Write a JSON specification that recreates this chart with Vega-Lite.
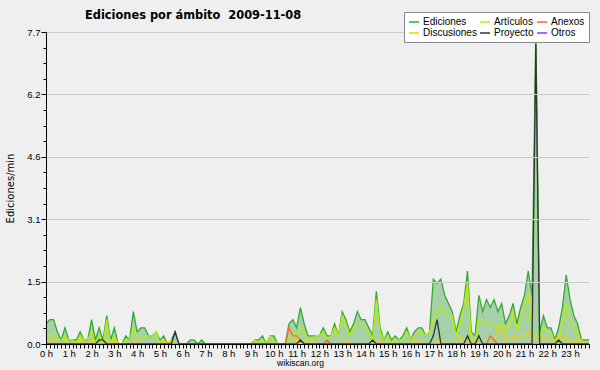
{
"$schema": "https://vega.github.io/schema/vega-lite/v6.json",
"width": 543, "height": 312,
"autosize": {"type": "none"},
"padding": {"left": 46, "top": 32, "right": 11, "bottom": 26},
"background": "#efefef",
"config": {"view": {"stroke": null}, "font": "DejaVu Sans",
"axis": {"labelOverlap": false, "labelFlush": false},
"axisX": {"labelOverlap": false, "labelFlush": false},
"axisY": {"labelOverlap": false, "labelFlush": false}},
"title": {"text": "Ediciones por ámbito \u00a02009-11-08", "anchor": "start", "frame": "group", "dx": 39, "fontSize": 11.4, "fontWeight": "bold", "color": "#000", "offset": -10},
"data": {"values": [
{"t":0,"E":0.5,"A":0.3,"D":0,"X":0,"P":0},
{"t":10,"E":0.6,"A":0.2,"D":0.1,"X":0,"P":0},
{"t":20,"E":0.6,"A":0.2,"D":0.1,"X":0,"P":0},
{"t":30,"E":0.3,"A":0.1,"D":0,"X":0,"P":0},
{"t":40,"E":0.1,"A":0.1,"D":0,"X":0,"P":0},
{"t":50,"E":0.4,"A":0.2,"D":0.1,"X":0,"P":0},
{"t":60,"E":0.1,"A":0.1,"D":0,"X":0,"P":0},
{"t":70,"E":0.1,"A":0.1,"D":0,"X":0,"P":0},
{"t":80,"E":0.1,"A":0,"D":0,"X":0,"P":0},
{"t":90,"E":0.3,"A":0.2,"D":0.1,"X":0,"P":0},
{"t":100,"E":0.1,"A":0.1,"D":0,"X":0,"P":0},
{"t":110,"E":0.1,"A":0.1,"D":0,"X":0,"P":0},
{"t":120,"E":0.6,"A":0.3,"D":0.1,"X":0,"P":0},
{"t":130,"E":0.1,"A":0,"D":0,"X":0,"P":0},
{"t":140,"E":0.4,"A":0.2,"D":0,"X":0,"P":0.1},
{"t":150,"E":0.1,"A":0,"D":0,"X":0,"P":0.1},
{"t":160,"E":0.7,"A":0.6,"D":0.1,"X":0,"P":0},
{"t":170,"E":0.1,"A":0,"D":0,"X":0,"P":0},
{"t":180,"E":0.4,"A":0.2,"D":0.1,"X":0,"P":0},
{"t":190,"E":0,"A":0,"D":0,"X":0,"P":0},
{"t":200,"E":0,"A":0,"D":0,"X":0,"P":0},
{"t":210,"E":0.2,"A":0.1,"D":0,"X":0,"P":0},
{"t":220,"E":0.1,"A":0.1,"D":0,"X":0,"P":0},
{"t":230,"E":0.8,"A":0.4,"D":0,"X":0,"P":0},
{"t":240,"E":0.3,"A":0.2,"D":0.1,"X":0,"P":0},
{"t":250,"E":0.4,"A":0.2,"D":0,"X":0,"P":0},
{"t":260,"E":0.4,"A":0.2,"D":0,"X":0,"P":0},
{"t":270,"E":0.2,"A":0.2,"D":0,"X":0,"P":0},
{"t":280,"E":0.2,"A":0.2,"D":0,"X":0,"P":0},
{"t":290,"E":0.3,"A":0.3,"D":0,"X":0,"P":0},
{"t":300,"E":0.1,"A":0,"D":0,"X":0,"P":0},
{"t":310,"E":0.2,"A":0.1,"D":0.1,"X":0,"P":0},
{"t":320,"E":0,"A":0,"D":0,"X":0,"P":0},
{"t":330,"E":0.1,"A":0,"D":0.1,"X":0,"P":0},
{"t":340,"E":0.3,"A":0,"D":0,"X":0,"P":0.3},
{"t":350,"E":0,"A":0,"D":0,"X":0,"P":0},
{"t":360,"E":0,"A":0,"D":0,"X":0,"P":0},
{"t":370,"E":0,"A":0,"D":0,"X":0,"P":0},
{"t":380,"E":0.1,"A":0,"D":0,"X":0,"P":0},
{"t":390,"E":0.1,"A":0,"D":0,"X":0,"P":0},
{"t":400,"E":0,"A":0,"D":0,"X":0,"P":0},
{"t":410,"E":0.1,"A":0,"D":0,"X":0,"P":0},
{"t":420,"E":0,"A":0,"D":0,"X":0,"P":0},
{"t":430,"E":0,"A":0,"D":0,"X":0,"P":0},
{"t":440,"E":0,"A":0,"D":0,"X":0,"P":0},
{"t":450,"E":0,"A":0,"D":0,"X":0,"P":0},
{"t":460,"E":0,"A":0,"D":0,"X":0,"P":0},
{"t":470,"E":0,"A":0,"D":0,"X":0,"P":0},
{"t":480,"E":0,"A":0,"D":0,"X":0,"P":0},
{"t":490,"E":0,"A":0,"D":0,"X":0,"P":0},
{"t":500,"E":0,"A":0,"D":0,"X":0,"P":0},
{"t":510,"E":0,"A":0,"D":0,"X":0,"P":0},
{"t":520,"E":0,"A":0,"D":0,"X":0,"P":0},
{"t":530,"E":0,"A":0,"D":0,"X":0,"P":0},
{"t":540,"E":0,"A":0,"D":0,"X":0,"P":0},
{"t":550,"E":0.1,"A":0.1,"D":0,"X":0,"P":0},
{"t":560,"E":0.1,"A":0,"D":0,"X":0,"P":0},
{"t":570,"E":0.2,"A":0.1,"D":0,"X":0,"P":0},
{"t":580,"E":0,"A":0,"D":0,"X":0,"P":0},
{"t":590,"E":0.2,"A":0.2,"D":0,"X":0,"P":0},
{"t":600,"E":0.2,"A":0.1,"D":0,"X":0,"P":0},
{"t":610,"E":0,"A":0,"D":0,"X":0,"P":0},
{"t":620,"E":0,"A":0,"D":0,"X":0,"P":0},
{"t":630,"E":0,"A":0,"D":0,"X":0,"P":0},
{"t":640,"E":0.5,"A":0.1,"D":0,"X":0.4,"P":0},
{"t":650,"E":0.6,"A":0.3,"D":0,"X":0.2,"P":0},
{"t":660,"E":0.4,"A":0.1,"D":0.1,"X":0.2,"P":0},
{"t":670,"E":0.9,"A":0.4,"D":0.1,"X":0.1,"P":0.1},
{"t":680,"E":0.5,"A":0.3,"D":0.1,"X":0,"P":0},
{"t":690,"E":0.2,"A":0.1,"D":0.1,"X":0,"P":0},
{"t":700,"E":0.2,"A":0.1,"D":0.1,"X":0,"P":0},
{"t":710,"E":0.2,"A":0.2,"D":0,"X":0,"P":0},
{"t":720,"E":0.2,"A":0.2,"D":0,"X":0,"P":0},
{"t":730,"E":0.4,"A":0.3,"D":0,"X":0,"P":0},
{"t":740,"E":0.2,"A":0.1,"D":0,"X":0.1,"P":0},
{"t":750,"E":0.2,"A":0.2,"D":0,"X":0,"P":0},
{"t":760,"E":0.5,"A":0.4,"D":0,"X":0,"P":0},
{"t":770,"E":0.2,"A":0.2,"D":0,"X":0,"P":0},
{"t":780,"E":0.8,"A":0.7,"D":0,"X":0,"P":0},
{"t":790,"E":0.6,"A":0.5,"D":0.1,"X":0,"P":0},
{"t":800,"E":0.3,"A":0.2,"D":0,"X":0,"P":0},
{"t":810,"E":0.5,"A":0.4,"D":0,"X":0,"P":0},
{"t":820,"E":0.8,"A":0.5,"D":0,"X":0,"P":0},
{"t":830,"E":0.6,"A":0.5,"D":0,"X":0,"P":0},
{"t":840,"E":0.6,"A":0.4,"D":0,"X":0,"P":0},
{"t":850,"E":0.4,"A":0.3,"D":0,"X":0,"P":0},
{"t":860,"E":0.2,"A":0.1,"D":0,"X":0,"P":0.1},
{"t":870,"E":1.3,"A":1.1,"D":0.1,"X":0,"P":0},
{"t":880,"E":0.4,"A":0.3,"D":0.1,"X":0,"P":0},
{"t":890,"E":0.1,"A":0.1,"D":0,"X":0,"P":0},
{"t":900,"E":0.3,"A":0.2,"D":0,"X":0,"P":0},
{"t":910,"E":0.1,"A":0,"D":0,"X":0,"P":0},
{"t":920,"E":0.2,"A":0.1,"D":0,"X":0,"P":0},
{"t":930,"E":0.1,"A":0.1,"D":0,"X":0,"P":0},
{"t":940,"E":0.2,"A":0.1,"D":0,"X":0,"P":0},
{"t":950,"E":0.4,"A":0.3,"D":0,"X":0,"P":0},
{"t":960,"E":0.1,"A":0.1,"D":0,"X":0,"P":0},
{"t":970,"E":0.3,"A":0.2,"D":0.1,"X":0,"P":0},
{"t":980,"E":0.4,"A":0.3,"D":0.1,"X":0,"P":0},
{"t":990,"E":0.4,"A":0.3,"D":0,"X":0,"P":0},
{"t":1000,"E":0.2,"A":0.2,"D":0,"X":0,"P":0},
{"t":1010,"E":0.3,"A":0.3,"D":0,"X":0,"P":0},
{"t":1020,"E":1.6,"A":0.6,"D":0,"X":0,"P":0.2},
{"t":1030,"E":1.5,"A":0.8,"D":0.1,"X":0,"P":0.6},
{"t":1040,"E":1.6,"A":0.9,"D":0.1,"X":0,"P":0},
{"t":1050,"E":1.2,"A":0.8,"D":0,"X":0,"P":0},
{"t":1060,"E":1.0,"A":0.7,"D":0,"X":0,"P":0},
{"t":1070,"E":0.8,"A":0.7,"D":0,"X":0,"P":0},
{"t":1080,"E":0.3,"A":0.2,"D":0,"X":0,"P":0},
{"t":1090,"E":0.7,"A":0.5,"D":0.2,"X":0,"P":0},
{"t":1100,"E":1.0,"A":0.9,"D":0.1,"X":0,"P":0},
{"t":1110,"E":1.8,"A":1.5,"D":0.1,"X":0,"P":0.2},
{"t":1120,"E":0.3,"A":0.1,"D":0.1,"X":0,"P":0},
{"t":1130,"E":0.2,"A":0.1,"D":0.1,"X":0,"P":0},
{"t":1140,"E":1.2,"A":0.6,"D":0,"X":0,"P":0.2},
{"t":1150,"E":0.8,"A":0.6,"D":0,"X":0,"P":0},
{"t":1160,"E":1.1,"A":0.5,"D":0,"X":0,"P":0},
{"t":1170,"E":0.9,"A":0.5,"D":0.2,"X":0.2,"P":0},
{"t":1180,"E":1.1,"A":0.5,"D":0.1,"X":0.1,"P":0},
{"t":1190,"E":0.8,"A":0.4,"D":0.3,"X":0,"P":0},
{"t":1200,"E":1.0,"A":0.5,"D":0.4,"X":0,"P":0},
{"t":1210,"E":0.5,"A":0.3,"D":0.1,"X":0,"P":0},
{"t":1220,"E":0.7,"A":0.4,"D":0.1,"X":0,"P":0},
{"t":1230,"E":1.0,"A":0.8,"D":0.2,"X":0,"P":0},
{"t":1240,"E":0.5,"A":0.3,"D":0.1,"X":0,"P":0},
{"t":1250,"E":0.9,"A":0.6,"D":0.2,"X":0,"P":0},
{"t":1260,"E":1.2,"A":1.0,"D":0.2,"X":0,"P":0},
{"t":1270,"E":1.8,"A":1.2,"D":0.3,"X":0,"P":0},
{"t":1280,"E":1.2,"A":0.4,"D":0.1,"X":0,"P":0},
{"t":1290,"E":7.7,"A":0.2,"D":0.1,"X":0,"P":7.4},
{"t":1300,"E":0.3,"A":0.2,"D":0.1,"X":0,"P":0},
{"t":1310,"E":0.7,"A":0.4,"D":0.2,"X":0,"P":0},
{"t":1320,"E":0.4,"A":0.3,"D":0.1,"X":0,"P":0},
{"t":1330,"E":0.4,"A":0.3,"D":0.1,"X":0,"P":0},
{"t":1340,"E":0.1,"A":0,"D":0.1,"X":0,"P":0},
{"t":1350,"E":0.4,"A":0.1,"D":0.2,"X":0,"P":0.1},
{"t":1360,"E":0.9,"A":0.5,"D":0.1,"X":0,"P":0},
{"t":1370,"E":1.7,"A":1.0,"D":0.2,"X":0,"P":0},
{"t":1380,"E":1.1,"A":0.6,"D":0.1,"X":0,"P":0},
{"t":1390,"E":0.7,"A":0.4,"D":0,"X":0,"P":0},
{"t":1400,"E":0.5,"A":0.3,"D":0.1,"X":0,"P":0},
{"t":1410,"E":0.1,"A":0,"D":0.1,"X":0,"P":0},
{"t":1420,"E":0.1,"A":0,"D":0,"X":0,"P":0},
{"t":1430,"E":0.1,"A":0,"D":0,"X":0,"P":0}
]},
"encoding": {
"x": {"field": "t", "type": "quantitative", "scale": {"domain": [0, 1430], "nice": false, "zero": false},
"axis": {"values": [0,10,20,30,40,50,60,70,80,90,100,110,120,130,140,150,160,170,180,190,200,210,220,230,240,250,260,270,280,290,300,310,320,330,340,350,360,370,380,390,400,410,420,430,440,450,460,470,480,490,500,510,520,530,540,550,560,570,580,590,600,610,620,630,640,650,660,670,680,690,700,710,720,730,740,750,760,770,780,790,800,810,820,830,840,850,860,870,880,890,900,910,920,930,940,950,960,970,980,990,1000,1010,1020,1030,1040,1050,1060,1070,1080,1090,1100,1110,1120,1130,1140,1150,1160,1170,1180,1190,1200,1210,1220,1230,1240,1250,1260,1270,1280,1290,1300,1310,1320,1330,1340,1350,1360,1370,1380,1390,1400,1410,1420,1430],
"labelExpr": "datum.value % 60 == 0 ? (datum.value / 60) + ' h' : ''",
"labelOverlap": false, "labelFlush": false, "labelFont": "Liberation Sans", "labelFontSize": 9.5, "labelColor": "#000", "labelPadding": 0,
"tickSize": 4, "tickColor": "#000", "domainColor": "#000", "grid": false, "zindex": 1,
"title": "wikiscan.org", "titleFont": "Liberation Sans", "titleFontSize": 8.5, "titleFontWeight": "normal", "titleColor": "#000",
"titleX": 254, "titleY": 18, "titleAlign": "center", "titleBaseline": "middle"}},
"y": {"field": "v", "type": "quantitative", "scale": {"domain": [0, 7.7], "nice": false, "zero": true},
"axis": {"values": [0,0.385,0.77,1.155,1.54,1.925,2.31,2.695,3.08,3.465,3.85,4.235,4.62,5.005,5.39,5.775,6.16,6.545,6.93,7.315,7.7],
"labelExpr": "abs(datum.value/1.54 - round(datum.value/1.54)) < 0.01 ? format(datum.value, '.1f') : ''",
"labelOverlap": false, "labelFont": "Liberation Sans", "labelFontSize": 9.5, "labelColor": "#000", "labelPadding": 1,
"tickSize": {"condition": {"test": "abs(datum.value/1.54 - round(datum.value/1.54)) < 0.01", "value": 5}, "value": 3},
"tickColor": "#000", "domainColor": "#000", "zindex": 1,
"gridColor": "#cccccc",
"gridOpacity": {"condition": {"test": "abs(datum.value/1.54 - round(datum.value/1.54)) < 0.01", "value": 1}, "value": 0},
"title": "Ediciones/min", "titleFontSize": 10, "titleFontWeight": "normal", "titleColor": "#000",
"titleX": -36, "titleY": 156, "titleAlign": "center", "titleBaseline": "middle"}}
},
"layer": [
{
"transform": [{"fold": ["E"], "as": ["s", "v"]}],
"mark": {"type": "area", "color": "#3aa63a", "opacity": 0.4}
},
{
"transform": [{"fold": ["E", "A", "D", "X", "P"], "as": ["s", "v"]}],
"mark": {"type": "line", "strokeWidth": 1.3},
"encoding": {
"color": {"field": "s", "type": "nominal",
"scale": {"domain": ["E", "A", "X", "D", "P", "O"], "range": ["#33aa33", "#bbee00", "#ff6633", "#ffcc00", "#333333", "#9933ff"]},
"legend": {"orient": "none", "legendX": 358, "legendY": -20, "columns": 3, "direction": "horizontal", "title": null, "zindex": 3,
"fillColor": "#ffffff", "strokeColor": "#888888", "padding": 4, "symbolType": "stroke", "symbolSize": 100, "symbolStrokeWidth": 1.5,
"labelFont": "Liberation Sans", "labelFontSize": 10, "labelOffset": 3, "columnPadding": 0, "rowPadding": 0, "labelColor": "#000",
"labelExpr": "datum.label == 'E' ? 'Ediciones' : datum.label == 'A' ? 'Artículos' : datum.label == 'X' ? 'Anexos' : datum.label == 'D' ? 'Discusiones' : datum.label == 'P' ? 'Proyecto' : 'Otros'"}}
}
},
{
"data": {"values": [{"lbl": "CC BY-SA 3.0"}]},
"mark": {"type": "text", "fontSize": 7, "color": "#333333", "align": "center", "baseline": "middle"},
"encoding": {
"x": {"datum": 1377, "type": "quantitative"},
"y": {"datum": -0.46, "type": "quantitative"},
"text": {"field": "lbl"}
}
}
]
}
